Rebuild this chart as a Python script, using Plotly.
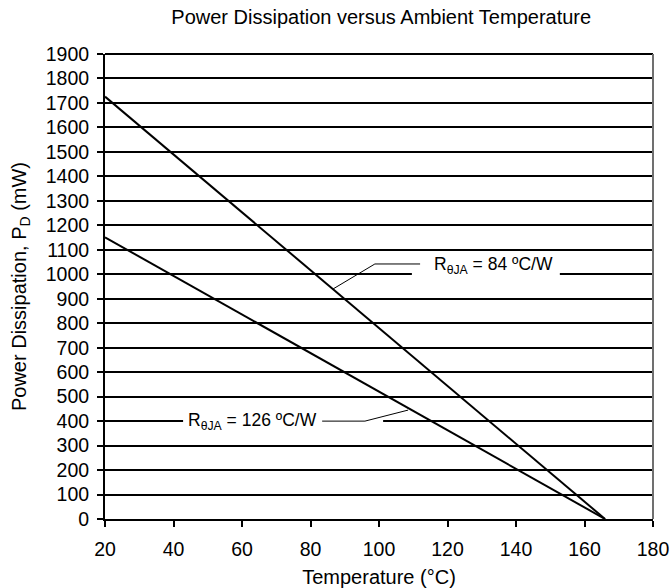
import plotly.graph_objects as go

# Data
temps_84 = [20, 166]
power_84 = [1726, 0]
temps_126 = [20, 166]
power_126 = [1151, 0]

x_tick_vals = [20, 40, 60, 80, 100, 120, 140, 160, 180]
y_tick_vals = [0, 100, 200, 300, 400, 500, 600, 700, 800, 900, 1000,
               1100, 1200, 1300, 1400, 1500, 1600, 1700, 1800, 1900]

label_84 = "R<sub>θJA</sub> = 84 ºC/W"
label_126 = "R<sub>θJA</sub> = 126 ºC/W"

FONT = "Liberation Sans, Arial, sans-serif"

fig = go.Figure()
fig.add_trace(go.Scatter(x=temps_84, y=power_84, mode="lines",
                         line=dict(color="black", width=2), hoverinfo="skip",
                         showlegend=False))
fig.add_trace(go.Scatter(x=temps_126, y=power_126, mode="lines",
                         line=dict(color="black", width=2), hoverinfo="skip",
                         showlegend=False))

shapes = [
    # white boxes behind labels (cover gridlines)
    dict(type="rect", xref="x", yref="y", x0=109.6, x1=152.8, y0=960, y1=1060,
         fillcolor="white", line=dict(width=0), layer="between"),
    dict(type="rect", xref="x", yref="y", x0=42.8, x1=101.2, y0=360, y1=440,
         fillcolor="white", line=dict(width=0), layer="between"),
    # leader lines
    dict(type="line", xref="x", yref="y", x0=86.6, y0=940, x1=98.8, y1=1042,
         line=dict(color="black", width=1), layer="above"),
    dict(type="line", xref="x", yref="y", x0=98.8, y0=1042, x1=112, y1=1042,
         line=dict(color="black", width=1), layer="above"),
    dict(type="line", xref="x", yref="y", x0=108.5, y0=445, x1=95.9, y1=400,
         line=dict(color="black", width=1), layer="above"),
    dict(type="line", xref="x", yref="y", x0=95.9, y0=400, x1=83.4, y1=400,
         line=dict(color="black", width=1), layer="above"),
    # frame: top and right borders
    dict(type="line", xref="paper", yref="paper", x0=0, x1=1, y0=1, y1=1,
         line=dict(color="black", width=2), layer="above"),
    dict(type="line", xref="paper", yref="paper", x0=1, x1=1, y0=0, y1=1,
         line=dict(color="#707070", width=2), layer="above"),
]

annotations = [
    dict(x=133.3, y=1034, xref="x", yref="y", text=label_84, showarrow=False,
         font=dict(family=FONT, size=17.5, color="black")),
    dict(x=63.1, y=398, xref="x", yref="y", text=label_126, showarrow=False,
         font=dict(family=FONT, size=17.5, color="black")),
]

fig.update_layout(
    width=670, height=588,
    margin=dict(l=105, r=17, t=54, b=69),
    paper_bgcolor="white", plot_bgcolor="white",
    font=dict(family=FONT, size=20, color="black"),
    title=dict(text="Power Dissipation versus Ambient Temperature",
               x=0.569, xanchor="center", y=0.971, yanchor="middle",
               font=dict(family=FONT, size=20, color="black")),
    shapes=shapes, annotations=annotations,
    xaxis=dict(range=[20, 180], tickvals=x_tick_vals, showgrid=False,
               zeroline=False, showline=True, linecolor="black", linewidth=2,
               ticks="outside", ticklen=6, tickwidth=1.5, tickcolor="black",
               tickfont=dict(size=19.5), automargin=False, ticklabelstandoff=6,
               title=dict(text="Temperature (°C)", font=dict(size=20), standoff=11)),
    yaxis=dict(range=[0, 1900], tickvals=y_tick_vals, showgrid=True,
               gridcolor="black", gridwidth=1.5, zeroline=False,
               showline=True, linecolor="black", linewidth=2,
               ticks="outside", ticklen=6, tickwidth=1.5, tickcolor="black",
               tickfont=dict(size=19.5), automargin=False, ticklabelstandoff=4,
               title=dict(text="Power Dissipation, P<sub>D</sub> (mW)",
                          font=dict(size=20), standoff=14)),
)

fig.write_html("out.html", config={"displayModeBar": False},
               post_script="document.body.style.margin='0';")
